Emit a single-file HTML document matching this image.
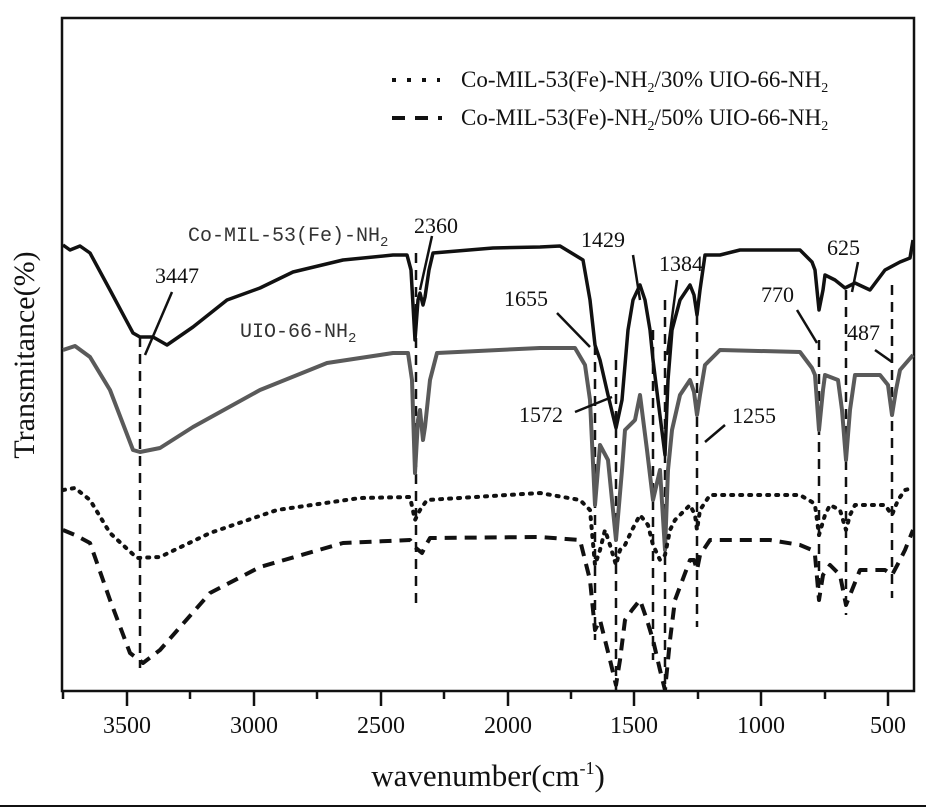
<!DOCTYPE html>
<html><head><meta charset="utf-8"><style>
html,body{margin:0;padding:0;background:#fff;}
svg{display:block;}
.t{font-family:"Liberation Serif",serif;fill:#111;}
.m{font-family:"Liberation Mono",monospace;fill:#333;}
</style></head><body>
<svg width="926" height="810" viewBox="0 0 926 810" xmlns="http://www.w3.org/2000/svg">
<rect x="0" y="0" width="926" height="810" fill="#fff"/>
<rect x="62" y="18" width="852" height="673" fill="none" stroke="#111" stroke-width="2.5"/>
<line x1="0" y1="806" x2="926" y2="806" stroke="#111" stroke-width="2"/>
<g stroke="#111" stroke-width="2.5">
<line x1="127" y1="691" x2="127" y2="706"/><line x1="254" y1="691" x2="254" y2="706"/>
<line x1="381" y1="691" x2="381" y2="706"/><line x1="508" y1="691" x2="508" y2="706"/>
<line x1="634" y1="691" x2="634" y2="706"/><line x1="761" y1="691" x2="761" y2="706"/>
<line x1="888" y1="691" x2="888" y2="706"/>
<line x1="190" y1="691" x2="190" y2="699"/><line x1="317" y1="691" x2="317" y2="699"/>
<line x1="444" y1="691" x2="444" y2="699"/><line x1="571" y1="691" x2="571" y2="699"/>
<line x1="698" y1="691" x2="698" y2="699"/><line x1="825" y1="691" x2="825" y2="699"/>
<line x1="63" y1="691" x2="63" y2="699"/>
</g>
<g class="t" font-size="24" text-anchor="middle">
<text x="127" y="733">3500</text><text x="254" y="733">3000</text><text x="381" y="733">2500</text>
<text x="508" y="733">2000</text><text x="634" y="733">1500</text><text x="761" y="733">1000</text>
<text x="888" y="733">500</text>
</g>
<text class="t" x="488" y="786" font-size="31" text-anchor="middle">wavenumber(cm<tspan font-size="18" dy="-12">-1</tspan><tspan dy="12">)</tspan></text>
<text class="t" x="0" y="0" font-size="30" text-anchor="middle" transform="translate(34,355) rotate(-90)">Transmitance(%)</text>

<g stroke="#111" stroke-width="2.5" stroke-dasharray="10,7">
<line x1="140" y1="337" x2="140" y2="668"/>
<line x1="416" y1="253" x2="416" y2="605"/>
<line x1="595" y1="345" x2="595" y2="640"/>
<line x1="616" y1="360" x2="616" y2="690"/>
<line x1="653" y1="330" x2="653" y2="660"/>
<line x1="665" y1="300" x2="665" y2="692"/>
<line x1="697" y1="315" x2="697" y2="627"/>
<line x1="819" y1="340" x2="819" y2="600"/>
<line x1="846" y1="290" x2="846" y2="615"/>
<line x1="892" y1="285" x2="892" y2="598"/>
</g>

<polyline fill="none" stroke="#111" stroke-width="3.5" stroke-linejoin="round" points="63,245 70,250 80,246 90,253 110,290 133,333 140,337 153,337 167,345 193,327 227,300 260,288 293,272 343,260 393,255 407,255 411,270 415,340 418,300 420,293 423,305 425,297 429,270 433,253 493,248 540,247 560,246 583,260 590,300 595,345 600,360 608,395 616,428 622,400 628,330 633,300 640,285 645,300 650,330 653,360 658,400 665,455 668,380 672,330 680,300 690,285 694,295 697,315 700,290 705,255 720,255 740,250 800,250 812,262 815,270 819,310 823,290 825,275 835,280 845,288 855,283 870,290 885,270 900,262 910,258 913,240"/>
<polyline fill="none" stroke="#5a5a5a" stroke-width="4" stroke-linejoin="round" points="63,350 75,346 90,357 110,390 133,450 140,452 160,448 193,427 260,390 327,363 393,353 408,353 412,380 415,473 418,420 420,410 423,440 425,427 430,380 437,353 540,348 575,348 585,365 590,400 595,505 600,445 608,460 616,540 622,470 625,430 635,420 640,395 647,450 653,500 660,470 665,550 668,470 672,430 680,395 690,380 694,392 697,415 700,395 705,365 720,350 800,352 812,368 815,375 819,430 823,390 825,375 838,380 842,410 846,460 850,410 855,375 880,375 888,385 892,415 896,390 900,370 913,355"/>
<polyline fill="none" stroke="#111" stroke-width="4" stroke-dasharray="2,7" stroke-linecap="round" stroke-linejoin="round" points="63,490 75,488 90,500 110,533 137,558 160,557 210,533 277,510 360,498 410,497 415,520 420,510 427,500 540,493 580,500 590,510 595,565 600,550 605,530 610,545 616,565 620,550 625,545 632,530 640,515 648,525 653,545 660,560 665,555 670,530 675,520 690,505 695,515 697,530 700,510 710,495 800,495 812,502 815,505 819,535 825,515 830,505 840,510 846,530 850,515 855,505 885,505 892,515 898,500 905,490 913,488"/>
<polyline fill="none" stroke="#111" stroke-width="4" stroke-dasharray="12,8" stroke-linejoin="round" points="63,530 75,535 90,543 110,600 130,653 143,663 160,650 210,593 260,567 343,543 410,540 416,548 422,553 426,545 430,538 540,537 580,540 590,580 595,630 600,620 605,640 610,660 616,685 620,660 625,620 632,610 640,600 647,620 653,640 660,670 665,690 670,640 675,600 690,560 694,560 697,570 700,555 710,540 770,540 800,545 812,550 815,555 819,600 823,575 830,565 840,575 846,605 852,590 860,570 885,570 892,575 900,560 905,550 913,530"/>

<g class="t" font-size="22">
<text x="155" y="283">3447</text>
<text x="414" y="233">2360</text>
<text x="581" y="247">1429</text>
<text x="659" y="271">1384</text>
<text x="504" y="306">1655</text>
<text x="519" y="422">1572</text>
<text x="732" y="423">1255</text>
<text x="761" y="302">770</text>
<text x="827" y="255">625</text>
<text x="847" y="340">487</text>
</g>
<text class="m" x="188" y="241" font-size="20">Co-MIL-53(Fe)-NH<tspan font-size="14" dy="5">2</tspan></text>
<text class="m" x="240" y="337" font-size="20">UIO-66-NH<tspan font-size="14" dy="5">2</tspan></text>
<g stroke="#111" stroke-width="2.5">
<line x1="172" y1="292" x2="145" y2="355"/>
<line x1="432" y1="236" x2="420" y2="290"/>
<line x1="633" y1="255" x2="640" y2="300"/>
<line x1="677" y1="280" x2="667" y2="355"/>
<line x1="557" y1="313" x2="590" y2="347"/>
<line x1="575" y1="412" x2="612" y2="397"/>
<line x1="705" y1="442" x2="725" y2="425"/>
<line x1="797" y1="310" x2="817" y2="343"/>
<line x1="858" y1="262" x2="852" y2="292"/>
<line x1="875" y1="350" x2="892" y2="362"/>
</g>

<g stroke="#111" stroke-width="4">
<line x1="392" y1="80" x2="440" y2="80" stroke-dasharray="4,11"/>
<line x1="392" y1="118" x2="442" y2="118" stroke-dasharray="13,10"/>
</g>
<text class="t" x="461" y="87" font-size="23">Co-MIL-53(Fe)-NH<tspan font-size="14" dy="5">2</tspan><tspan dy="-5">/30% UIO-66-NH</tspan><tspan font-size="14" dy="5">2</tspan></text>
<text class="t" x="461" y="125" font-size="23">Co-MIL-53(Fe)-NH<tspan font-size="14" dy="5">2</tspan><tspan dy="-5">/50% UIO-66-NH</tspan><tspan font-size="14" dy="5">2</tspan></text>
</svg>
</body></html>
